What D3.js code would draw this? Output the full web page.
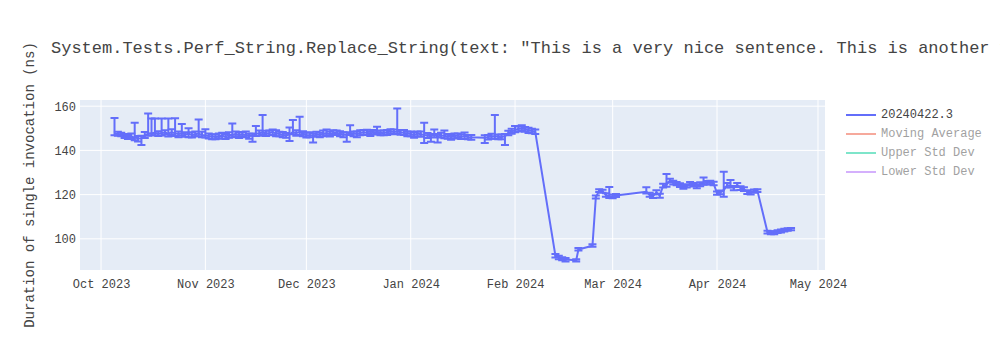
<!DOCTYPE html>
<html>
<head>
<meta charset="utf-8">
<script src="https://cdn.jsdelivr.net/npm/d3@7"></script>
<style>
	body { margin: 0; background: #fff; }
	svg { display: block; font-family: 'Liberation Mono', 'Courier New', monospace; }
</style>
</head>
<body>
<div id="chart"></div>
<script>
// DATA
// one entry per benchmark run: date, mean duration (ns), error bar above / below
const runDates = [
	"2023-10-05","2023-10-06","2023-10-07","2023-10-08","2023-10-09","2023-10-10","2023-10-11","2023-10-12","2023-10-13","2023-10-14",
	"2023-10-15","2023-10-16","2023-10-17","2023-10-18","2023-10-19","2023-10-20","2023-10-21","2023-10-22","2023-10-23","2023-10-24",
	"2023-10-25","2023-10-26","2023-10-27","2023-10-28","2023-10-29","2023-10-30","2023-10-31",
	"2023-11-01","2023-11-02","2023-11-03","2023-11-04","2023-11-05","2023-11-06","2023-11-07","2023-11-08","2023-11-09","2023-11-10",
	"2023-11-11","2023-11-12","2023-11-13","2023-11-14","2023-11-15","2023-11-16","2023-11-17","2023-11-18","2023-11-19","2023-11-20",
	"2023-11-21","2023-11-22","2023-11-23","2023-11-24","2023-11-25","2023-11-26","2023-11-27","2023-11-28","2023-11-29","2023-11-30",
	"2023-12-01","2023-12-02","2023-12-03","2023-12-04","2023-12-05","2023-12-06","2023-12-07","2023-12-08","2023-12-09","2023-12-10",
	"2023-12-11","2023-12-12","2023-12-13","2023-12-14","2023-12-15","2023-12-16","2023-12-17","2023-12-18","2023-12-19","2023-12-20",
	"2023-12-21","2023-12-22","2023-12-23","2023-12-24","2023-12-25","2023-12-26","2023-12-27","2023-12-28","2023-12-29","2023-12-30","2023-12-31",
	"2024-01-01","2024-01-02","2024-01-03","2024-01-04","2024-01-05","2024-01-06","2024-01-07","2024-01-08","2024-01-09","2024-01-10",
	"2024-01-11","2024-01-12","2024-01-13","2024-01-14","2024-01-15","2024-01-16","2024-01-17","2024-01-18","2024-01-19",
	"2024-01-23","2024-01-24","2024-01-25","2024-01-26","2024-01-27","2024-01-28","2024-01-29","2024-01-30","2024-01-31",
	"2024-02-01","2024-02-02","2024-02-03","2024-02-04","2024-02-05","2024-02-06","2024-02-07",
	"2024-02-13","2024-02-14","2024-02-15","2024-02-16","2024-02-19T04:00","2024-02-19T20:00","2024-02-24","2024-02-25","2024-02-26","2024-02-27",
	"2024-02-28","2024-02-29","2024-03-01","2024-03-02",
	"2024-03-11","2024-03-12","2024-03-13","2024-03-14","2024-03-15","2024-03-16","2024-03-17","2024-03-18","2024-03-19","2024-03-20",
	"2024-03-21","2024-03-22","2024-03-23","2024-03-24","2024-03-25","2024-03-26","2024-03-27","2024-03-28","2024-03-29","2024-03-30","2024-03-31",
	"2024-04-01","2024-04-02","2024-04-03","2024-04-04","2024-04-05","2024-04-06","2024-04-07","2024-04-08","2024-04-09","2024-04-10",
	"2024-04-11","2024-04-12","2024-04-13",
	"2024-04-16","2024-04-17","2024-04-18","2024-04-19","2024-04-20","2024-04-21","2024-04-22","2024-04-23"
];

const durations = [
	147.6,147.4,147.2,146.5,146.0,146.2,145.8,145.5,145.4,146.8,
	147.6,147.8,148.0,147.5,147.9,148.1,147.6,148.2,147.7,147.4,
	147.8,147.2,147.5,147.0,147.3,147.6,147.0,
	146.8,146.5,146.3,146.1,146.4,146.6,146.2,146.9,147.1,147.4,
	146.9,147.3,147.0,146.5,146.6,147.5,147.8,148.2,147.6,147.9,
	148.3,147.6,147.4,147.1,146.8,147.2,148.3,147.8,148.4,147.5,
	147.0,146.9,146.6,147.2,147.0,147.6,147.8,147.4,147.9,148.0,
	147.5,147.2,147.0,148.0,147.6,147.4,147.9,148.2,148.0,147.7,
	148.1,148.4,148.0,147.8,148.2,148.5,148.3,148.6,148.2,148.0,147.6,
	147.4,147.0,147.6,147.3,147.0,146.7,146.4,147.0,146.3,146.8,
	146.6,146.3,146.0,146.4,146.7,146.2,146.5,146.0,145.9,
	145.7,146.0,146.3,146.5,146.2,146.0,146.4,147.8,148.6,
	149.2,149.8,150.0,149.6,149.0,148.8,148.4,
	92.3,91.6,91.0,90.6,90.3,95.2,96.9,118.8,121.8,121.5,
	119.8,119.4,119.2,119.6,
	121.3,120.0,119.4,121.0,119.6,124.0,124.5,126.3,125.5,125.0,
	124.2,123.6,124.0,124.8,124.5,123.8,124.6,125.2,125.4,125.6,125.0,
	120.6,121.0,122.0,124.2,124.0,123.0,124.3,123.0,122.4,121.2,
	120.8,121.5,121.8,
	103.0,102.7,102.8,103.2,103.6,103.9,104.2,104.4
];

const errorsPlus = [
	7.1,1.0,0.8,0.9,1.0,1.5,6.7,1.0,1.2,1.5,
	9.1,6.6,6.4,1.2,6.5,1.0,6.8,1.4,6.9,1.2,
	4.1,1.0,2.5,1.2,1.3,6.4,1.4,
	2.8,1.2,1.0,1.1,1.2,1.4,1.2,1.3,5.1,1.2,
	1.2,1.0,1.5,1.0,1.1,3.5,1.2,7.8,1.3,1.1,
	1.2,1.5,1.0,1.2,1.1,3.2,5.4,1.3,6.8,1.2,
	1.0,1.3,1.1,1.2,1.0,1.4,1.7,1.1,1.2,1.0,
	1.2,1.0,1.2,3.4,1.0,1.1,1.2,1.0,1.3,1.0,
	1.1,2.3,1.0,1.2,1.0,1.1,1.2,10.3,1.0,1.2,1.0,
	1.1,1.2,1.0,1.3,5.5,1.2,1.0,2.5,1.1,1.2,
	2.4,1.1,1.0,1.2,1.0,1.1,1.6,1.0,1.1,
	1.2,1.0,1.2,9.5,1.0,1.2,1.0,1.1,1.2,
	1.8,1.0,1.4,1.0,1.2,1.0,1.0,
	0.8,0.8,0.7,0.7,0.5,0.6,0.6,0.8,0.6,0.7,
	0.8,4.0,0.8,0.7,
	2.0,0.9,0.8,1.0,0.8,0.9,4.8,0.9,0.8,0.7,
	0.9,0.8,0.7,0.9,0.8,0.9,1.0,2.5,0.8,0.7,0.8,
	0.8,0.9,8.4,1.0,2.6,0.9,1.0,0.8,0.9,0.8,
	0.7,0.8,0.6,
	0.6,0.7,0.6,0.7,0.6,0.7,0.6,0.5
];

const errorsMinus = [
	0.8,0.8,0.8,0.9,0.8,1.0,1.2,1.5,3.0,1.2,
	1.0,1.0,1.1,1.0,1.2,0.9,1.3,1.2,1.2,1.5,
	1.1,1.0,1.6,1.2,0.9,1.2,1.0,
	1.0,1.1,1.2,1.0,0.9,1.3,1.0,1.2,1.1,1.0,
	1.3,0.9,1.1,1.2,2.7,1.0,1.2,1.0,1.1,1.0,
	1.3,1.2,1.0,1.2,1.1,3.0,1.0,1.2,1.4,1.1,
	1.2,1.0,3.0,1.0,1.1,1.2,1.0,1.1,0.9,1.0,
	1.1,1.2,3.1,1.0,1.2,1.5,1.0,1.1,1.0,1.2,
	0.9,1.0,1.1,1.0,1.2,1.0,1.0,1.0,1.1,1.0,1.2,
	1.0,1.3,1.2,1.1,3.6,1.1,2.5,1.2,2.7,1.0,
	1.1,1.0,1.2,1.0,1.1,1.0,1.2,1.0,1.1,
	2.3,1.1,1.0,1.2,1.1,1.0,4.0,1.0,1.1,
	1.0,1.2,1.0,1.2,1.1,1.0,1.0,
	0.8,0.8,0.7,0.8,0.5,0.5,0.5,0.6,0.6,0.7,
	0.8,0.9,0.9,0.7,
	0.8,1.0,0.9,0.8,1.0,0.8,0.9,0.8,0.9,0.8,
	0.7,0.9,0.8,0.7,0.8,0.9,0.8,0.7,0.8,0.9,0.8,
	0.7,0.8,3.0,0.9,0.8,1.0,0.8,0.9,0.8,0.9,
	0.8,0.7,0.6,
	0.6,0.6,0.7,0.6,0.7,0.6,0.6,0.5
];

const yTicks = [100, 120, 140, 160];
const xTicks = ["2023-10-01","2023-11-01","2023-12-01","2024-01-01","2024-02-01","2024-03-01","2024-04-01","2024-05-01"];

const legendNames = ["20240422.3", "Moving Average", "Upper Std Dev", "Lower Std Dev"];
const legendColors = ["#636efa", "#EF553B", "#00cc96", "#ab63fa"];
const legendVisible = [true, false, false, false];

const titleText = 'System.Tests.Perf_String.Replace_String(text: "This is a very nice sentence. This is another very nice sentence.", oldValue: "nice", newValue: "bad")';
const yTitle = "Duration of single invocation (ns)";

// CHART SETUP
const width = 1000, height = 350;
const margin = {top: 100, right: 175, bottom: 80, left: 80};
const plotW = width - margin.left - margin.right;
const plotH = height - margin.top - margin.bottom;

const parseDate = s => new Date(s.length > 10 ? s + "Z" : s + "T00:00:00Z");
const points = runDates.map((d, i) => ({
	date: parseDate(d),
	value: durations[i],
	hi: durations[i] + errorsPlus[i],
	lo: durations[i] - errorsMinus[i]
}));

const svg = d3.select('#chart')
	.append('svg')
	.attr('width', width)
	.attr('height', height);

const scaleX = d3.scaleUtc()
	.domain([new Date("2023-09-24T18:00:00Z"), new Date("2024-05-03T02:00:00Z")])
	.range([0, plotW]);

const scaleY = d3.scaleLinear()
	.domain([85.9, 162.8])
	.range([plotH, 0]);

const chartArea = svg.append('g')
	.attr('transform', `translate(${margin.left},${margin.top})`);

// background
chartArea.append('rect')
	.attr('width', plotW)
	.attr('height', plotH)
	.attr('fill', '#E5ECF6');

// GRID
chartArea.selectAll('line.gridX')
	.data(xTicks.map(parseDate))
	.join('line')
	.classed('gridX', true)
	.attr('x1', d => scaleX(d)).attr('x2', d => scaleX(d))
	.attr('y1', 0).attr('y2', plotH)
	.attr('stroke', '#fff')
	.attr('stroke-width', 1);

chartArea.selectAll('line.gridY')
	.data(yTicks)
	.join('line')
	.classed('gridY', true)
	.attr('x1', 0).attr('x2', plotW)
	.attr('y1', d => scaleY(d)).attr('y2', d => scaleY(d))
	.attr('stroke', '#fff')
	.attr('stroke-width', 1);

// AXES (labels only, plotly style)
const axisX = svg.append('g')
	.attr('transform', `translate(${margin.left},${margin.top + plotH})`)
	.call(d3.axisBottom(scaleX)
		.tickValues(xTicks.map(parseDate))
		.tickFormat(d3.utcFormat('%b %Y'))
		.tickSize(0)
		.tickPadding(9));
const axisY = svg.append('g')
	.attr('transform', `translate(${margin.left},${margin.top})`)
	.call(d3.axisLeft(scaleY)
		.tickValues(yTicks)
		.tickSize(0)
		.tickPadding(4));
[axisX, axisY].forEach(a => {
	a.select('.domain').remove();
	a.selectAll('text')
		.style('font-family', "'Liberation Mono', 'Courier New', monospace")
		.style('font-size', '12px')
		.attr('fill', '#444');
});

// DATA LINE
const lineGen = d3.line()
	.x(d => scaleX(d.date))
	.y(d => scaleY(d.value));

chartArea.append('path')
	.datum(points)
	.attr('d', lineGen)
	.attr('fill', 'none')
	.attr('stroke', '#636efa')
	.attr('stroke-width', 2)
	.attr('stroke-linejoin', 'round');

// ERROR BARS
const capW = 4;
chartArea.selectAll('path.errBar')
	.data(points)
	.join('path')
	.classed('errBar', true)
	.attr('d', d => {
		const x = scaleX(d.date), y1 = scaleY(d.hi), y2 = scaleY(d.lo);
		return `M${x - capW},${y1}h${2 * capW}m-${capW},0V${y2}m-${capW},0h${2 * capW}`;
	})
	.attr('fill', 'none')
	.attr('stroke', '#636efa')
	.attr('stroke-width', 2);

// TITLE
svg.append('text')
	.attr('x', 51)
	.attr('y', 48)
	.attr('dominant-baseline', 'central')
	.style('font-size', '17px')
	.attr('fill', '#444')
	.text(titleText);

svg.append('text')
	.attr('transform', `translate(30,${margin.top + plotH / 2}) rotate(-90)`)
	.attr('text-anchor', 'middle')
	.attr('dominant-baseline', 'central')
	.style('font-size', '14px')
	.attr('fill', '#444')
	.text(yTitle);

// LEGEND
const legend = svg.append('g')
	.attr('transform', 'translate(846,115)');
const items = legend.selectAll('g.item')
	.data(legendNames)
	.join('g')
	.classed('item', true)
	.attr('transform', (d, i) => `translate(0,${i * 19})`)
	.attr('opacity', (d, i) => legendVisible[i] ? 1 : 0.5);
items.append('line')
	.attr('x1', 0).attr('x2', 30)
	.attr('stroke', (d, i) => legendColors[i])
	.attr('stroke-width', 2);
items.append('text')
	.attr('x', 35)
	.attr('dominant-baseline', 'central')
	.style('font-size', '12px')
	.attr('fill', '#444')
	.text(d => d);
</script>
</body>
</html>
